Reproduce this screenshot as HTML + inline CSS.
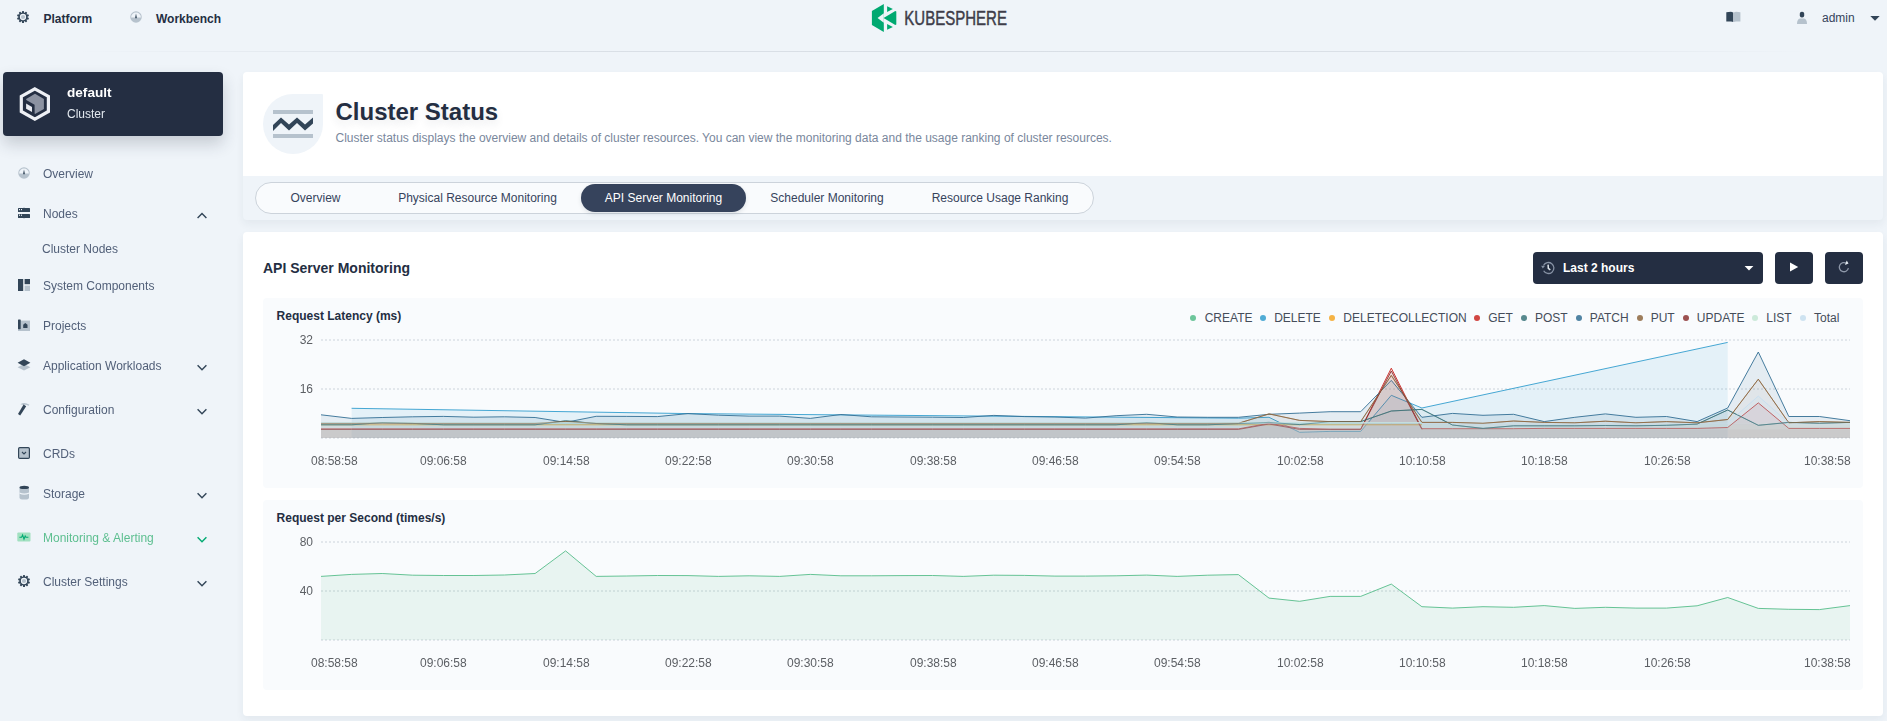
<!DOCTYPE html>
<html lang="en">
<head>
<meta charset="utf-8">
<title>KubeSphere</title>
<style>
*{box-sizing:border-box;margin:0;padding:0}
html,body{width:1887px;height:721px;overflow:hidden}
body{background:#eff4f9;font-family:"Liberation Sans",sans-serif;font-size:12px;color:#242e42;position:relative;-webkit-font-smoothing:antialiased}
.abs{position:absolute}
.t{position:absolute;white-space:nowrap;line-height:20px;height:20px}
.b{font-weight:bold}
/* header */
.hline{position:absolute;left:0;top:51px;width:1887px;height:1px;background:linear-gradient(90deg,rgba(216,222,229,0) 4%,rgba(216,222,229,.9) 24%,#d8dee5 50%,rgba(216,222,229,.9) 76%,rgba(216,222,229,0) 96%)}
/* sidebar */
.cluster{position:absolute;left:3px;top:72px;width:220px;height:64px;background:#242e42;border-radius:4px;box-shadow:0 8px 16px 0 rgba(36,46,66,.2)}
.nav{color:#526079;will-change:transform}
.nav.on{color:#5dbf90}
/* main */
.banner{position:absolute;left:243px;top:72px;width:1640px;height:148px;border-radius:4px;background:#eff4f9;box-shadow:0 4px 8px 0 rgba(36,46,66,.06)}
.banner .top{position:absolute;left:0;top:0;width:1640px;height:104px;background:#fff;border-radius:4px 4px 0 0}
.bicon{position:absolute;left:263px;top:94px;width:60px;height:60px;background:#eff4f9;border-radius:30px 1px 30px 30px}
.tabs{position:absolute;left:255px;top:182px;width:839px;height:32px;border:1px solid #ccd3db;border-radius:16px;background:#f9fbfd}
.tab{position:absolute;top:184px;height:28px;line-height:28px;text-align:center;color:#36435c;white-space:nowrap}
.tab.on{background:#36435c;color:#fff;border-radius:14px;box-shadow:0 2px 4px rgba(36,46,66,.12)}
.panel{position:absolute;left:243px;top:232px;width:1640px;height:484px;background:#fff;border-radius:4px;box-shadow:0 4px 8px 0 rgba(36,46,66,.06)}
.dark{position:absolute;background:#242e42;border-radius:4px;height:32px;top:252px}
.chart{position:absolute;left:263px;width:1600px;background:#f9fbfd;border-radius:4px}
.ax{will-change:transform;position:absolute;white-space:nowrap;color:#5c5f64;font-size:12px;line-height:14px;height:14px}
.lg{position:absolute;top:311px;height:14px;line-height:14px;white-space:nowrap;color:#454d5a}
.dot{position:absolute;top:315px;width:6px;height:6px;border-radius:50%;opacity:.85}
.hs{margin-top:1px}
</style>
</head>
<body>
<!-- header -->
<svg class="abs" style="left:17px;top:11px" width="12" height="12" viewBox="0 0 24 24"><g fill="#324558"><circle cx="12" cy="12" r="9.2"/><g id="tooth"><rect x="10" y="0" width="4" height="5" rx="1"/></g><use href="#tooth" transform="rotate(36 12 12)"/><use href="#tooth" transform="rotate(72 12 12)"/><use href="#tooth" transform="rotate(108 12 12)"/><use href="#tooth" transform="rotate(144 12 12)"/><use href="#tooth" transform="rotate(180 12 12)"/><use href="#tooth" transform="rotate(216 12 12)"/><use href="#tooth" transform="rotate(252 12 12)"/><use href="#tooth" transform="rotate(288 12 12)"/><use href="#tooth" transform="rotate(324 12 12)"/></g><circle cx="12" cy="12" r="6.3" fill="#eff4f9"/><circle cx="12" cy="12" r="4.2" fill="#b6c2cd"/></svg>
<div class="t b hs" style="left:43.5px;top:8px">Platform</div>
<svg class="abs" style="left:130px;top:11px" width="12" height="12" viewBox="0 0 24 24"><circle cx="12" cy="12" r="11.5" fill="#b6c2cd"/><path d="M2.2 13 A9.8 9.8 0 0 1 21.8 13 Z" fill="#eff4f9"/><path d="M12 5 L13.6 12.5 A1.7 1.7 0 1 1 10.4 12.5 Z" fill="#324558"/></svg>
<div class="t b hs" style="left:156px;top:8px">Workbench</div>
<div class="hline"></div>
<!-- logo -->
<svg class="abs" style="left:871px;top:4px" width="26" height="28" viewBox="0 0 26 28"><path d="M13 0 L1 7 L1 21 L13 28 L13 20.5 L7.3 16.2 L13 11.8 L18.3 14.9 L10.2 16.2 L24.6 24 L24.6 21.5 L25.4 21 L25.4 7 L24.6 6.6 L24.6 9.6 L13 9 Z" fill="none"/>
<path d="M12.8 0 L0.9 6.9 L0.9 21 L12.8 28 Z" fill="#00a971"/>
<path d="M12.8 9.2 L6.6 14 L12.8 18.8 Z" fill="#eff4f9"/>
<path d="M16.1 2.3 L21.9 5 L16.1 8 Z" fill="#00a971"/>
<path d="M16.1 25.7 L21.9 23 L16.1 20 Z" fill="#00a971"/>
<path d="M24.3 7 L25.3 7.6 L25.3 20.4 L24.3 21 L12.6 14 Z" fill="#00a971"/>
</svg>
<svg class="abs" style="left:904px;top:8px" width="105" height="20" viewBox="0 0 105 20"><text x="0.3" y="17" font-family="Liberation Sans, sans-serif" font-size="19.5" font-weight="400" fill="#3e3d49" stroke="#3e3d49" stroke-width="0.45" textLength="102.6" lengthAdjust="spacingAndGlyphs">KUBESPHERE</text></svg>
<!-- right -->
<svg class="abs" style="left:1726px;top:11px" width="15" height="12" viewBox="0 0 15 12"><path d="M0.3 1.2 L5 0.8 L7.3 1.6 L7.3 11 L5 10.4 L0.3 10.6 Z" fill="#324558"/><path d="M7.6 1.6 L10 0.8 L14.4 1.2 L14.4 10.6 L10 10.4 L7.6 11 Z" fill="#b6c2cd"/></svg>
<svg class="abs" style="left:1796px;top:11px" width="12" height="14" viewBox="0 0 12 14"><path d="M1 13 Q1 8.2 4 7.6 L8 7.6 Q11 8.2 11 13 Z" fill="#b6c2cd"/><rect x="3.8" y="0.8" width="4.4" height="5.6" rx="2" fill="#324558"/></svg>
<div class="t" style="left:1822px;top:8px;color:#36435c">admin</div>
<svg class="abs" style="left:1870px;top:16px" width="10" height="5" viewBox="0 0 10 5"><path d="M0.3 0 L9.7 0 L5 4.8 Z" fill="#324558"/></svg>

<!-- sidebar -->
<div class="cluster"></div>
<svg class="abs" style="left:18px;top:85px" width="34" height="38" viewBox="18 85 34 38"><path d="M34.85 88.85 L48.4 96.4 L48.4 111.5 L34.85 119.05 L21.3 111.5 L21.3 96.4 Z" fill="none" stroke="#eef0f5" stroke-width="3.2" stroke-linejoin="miter"/><path d="M35 93.7 L43.9 98.9 L43.9 109 L35 114 L26.2 109 L26.2 98.9 Z" fill="#8c92a1"/><path d="M25.4 99.6 L34.6 104.7 L34.6 114.6 L25.4 109.6 Z" fill="#242e42"/><path d="M26.1 103.6 L32 106.9 L32 112 L26.1 108.7 Z" fill="#e8eaf0"/></svg>
<div class="t b hs" style="left:67px;top:82px;font-size:13.6px;color:#fff;will-change:transform">default</div>
<div class="t hs" style="left:67px;top:103px;color:#e3e9ef;will-change:transform">Cluster</div>

<!-- Overview -->
<svg class="abs" style="left:18px;top:167px" width="12" height="12" viewBox="0 0 24 24"><circle cx="12" cy="12" r="11.5" fill="#b6c2cd"/><path d="M2.2 13 A9.8 9.8 0 0 1 21.8 13 Z" fill="#eff4f9"/><path d="M12 5 L13.6 12.5 A1.7 1.7 0 1 1 10.4 12.5 Z" fill="#324558"/></svg>
<div class="t hs nav" style="left:43.4px;top:163px">Overview</div>
<!-- Nodes -->
<svg class="abs" style="left:18px;top:207px" width="13" height="12" viewBox="0 0 13 12"><rect x="0" y="1" width="12" height="4" rx="0.5" fill="#324558"/><rect x="0" y="7" width="12" height="4" rx="0.5" fill="#324558"/><rect x="1" y="2" width="1" height="1.2" fill="#eff4f9"/><rect x="3" y="2" width="1" height="1.2" fill="#eff4f9"/><rect x="1" y="7.6" width="1" height="1.2" fill="#eff4f9"/><rect x="3" y="7.6" width="1" height="1.2" fill="#eff4f9"/><rect x="5.2" y="0.4" width="1.6" height="0.6" fill="#b6c2cd"/><rect x="5.2" y="11" width="1.6" height="0.6" fill="#b6c2cd"/></svg>
<div class="t hs nav" style="left:43.4px;top:203px">Nodes</div>
<svg class="abs" style="left:196px;top:211px" width="12" height="9" viewBox="0 0 12 9"><path d="M1.6 7 L6 2.4 L10.4 7" fill="none" stroke="#324558" stroke-width="1.4"/></svg>
<div class="t hs nav" style="left:42px;top:238px">Cluster Nodes</div>
<!-- System Components -->
<svg class="abs" style="left:18px;top:279px" width="12" height="12" viewBox="0 0 12 12"><rect x="0" y="0" width="5.2" height="12" fill="#324558"/><rect x="6.6" y="0" width="5.4" height="5.2" fill="#324558"/><rect x="6.6" y="6.6" width="5.4" height="5.4" fill="#b6c2cd"/></svg>
<div class="t hs nav" style="left:43.4px;top:275px">System Components</div>
<!-- Projects -->
<svg class="abs" style="left:18px;top:319px" width="12" height="12" viewBox="0 0 12 12"><rect x="0" y="1.6" width="12" height="10.4" fill="#b6c2cd"/><rect x="0" y="0.4" width="2.7" height="9.8" rx="0.6" fill="#324558"/><path d="M5.2 8.9 L5.2 5.8 L7.3 3.9 L9.5 5.8 L9.5 8.9 Z" fill="#324558"/></svg>
<div class="t hs nav" style="left:43.4px;top:315px">Projects</div>
<!-- Application Workloads -->
<svg class="abs" style="left:17px;top:359px" width="14" height="12" viewBox="0 0 14 12"><path d="M7 5 L13.4 8.2 L7 11.6 L0.6 8.2 Z" fill="#b6c2cd"/><path d="M7 0.3 L13.4 3.7 L7 7.2 L0.6 3.7 Z" fill="#324558"/></svg>
<div class="t hs nav" style="left:43.4px;top:355px">Application Workloads</div>
<svg class="abs" style="left:196px;top:363px" width="12" height="9" viewBox="0 0 12 9"><path d="M1.6 2.2 L6 6.8 L10.4 2.2" fill="none" stroke="#324558" stroke-width="1.4"/></svg>
<!-- Configuration -->
<svg class="abs" style="left:17px;top:402px" width="14" height="14" viewBox="0 0 14 14"><path d="M3.4 2.2 Q7.6 -0.6 12.4 2.8 L11.6 3.8 Q8.6 2 6.4 3 Z" fill="#b6c2cd"/><path d="M6.6 2.6 L9.2 4.2 L3.2 13.4 L1 12 Z" fill="#324558"/></svg>
<div class="t hs nav" style="left:43.4px;top:399px">Configuration</div>
<svg class="abs" style="left:196px;top:407px" width="12" height="9" viewBox="0 0 12 9"><path d="M1.6 2.2 L6 6.8 L10.4 2.2" fill="none" stroke="#324558" stroke-width="1.4"/></svg>
<!-- CRDs -->
<svg class="abs" style="left:18px;top:447px" width="12" height="12" viewBox="0 0 12 12"><rect x="0.6" y="0.6" width="10.8" height="10.8" rx="1.2" fill="#b6c2cd" stroke="#324558" stroke-width="1.2"/><path d="M4 5 L6 7 L8 5" fill="none" stroke="#324558" stroke-width="1.1"/></svg>
<div class="t hs nav" style="left:43.4px;top:443px">CRDs</div>
<!-- Storage -->
<svg class="abs" style="left:18px;top:485px" width="13" height="15" viewBox="0 0 13 15"><path d="M1.5 2.6 L11 2.6 L11 12.4 Q11 14.6 6.25 14.6 Q1.5 14.6 1.5 12.4 Z" fill="#b6c2cd"/><ellipse cx="6.25" cy="2.4" rx="4.75" ry="1.7" fill="#324558"/><path d="M1.5 7.6 Q6.25 9.6 11 7.6 L11 8.8 Q6.25 10.8 1.5 8.8 Z" fill="#eff4f9"/></svg>
<div class="t hs nav" style="left:43.4px;top:483px">Storage</div>
<svg class="abs" style="left:196px;top:491px" width="12" height="9" viewBox="0 0 12 9"><path d="M1.6 2.2 L6 6.8 L10.4 2.2" fill="none" stroke="#324558" stroke-width="1.4"/></svg>
<!-- Monitoring -->
<svg class="abs" style="left:17px;top:532px" width="14" height="10" viewBox="0 0 14 10"><rect x="0.3" y="0.4" width="13.2" height="9.2" rx="1" fill="#a1e0c0"/><path d="M2.4 5.2 L4.6 5.2 L5.6 3 L7 7.2 L8.2 4 L9 5.2 L11.4 5.2" fill="none" stroke="#00aa72" stroke-width="1.1"/></svg>
<div class="t hs nav on" style="left:43.4px;top:527px">Monitoring &amp; Alerting</div>
<svg class="abs" style="left:196px;top:535px" width="12" height="9" viewBox="0 0 12 9"><path d="M1.6 2.2 L6 6.8 L10.4 2.2" fill="none" stroke="#00aa72" stroke-width="1.4"/></svg>
<!-- Cluster Settings -->
<svg class="abs" style="left:18px;top:575px" width="12" height="12" viewBox="0 0 24 24"><g fill="#324558"><circle cx="12" cy="12" r="9.2"/><use href="#tooth"/><use href="#tooth" transform="rotate(36 12 12)"/><use href="#tooth" transform="rotate(72 12 12)"/><use href="#tooth" transform="rotate(108 12 12)"/><use href="#tooth" transform="rotate(144 12 12)"/><use href="#tooth" transform="rotate(180 12 12)"/><use href="#tooth" transform="rotate(216 12 12)"/><use href="#tooth" transform="rotate(252 12 12)"/><use href="#tooth" transform="rotate(288 12 12)"/><use href="#tooth" transform="rotate(324 12 12)"/></g><circle cx="12" cy="12" r="6.3" fill="#eff4f9"/><circle cx="12" cy="12" r="4.2" fill="#b6c2cd"/></svg>
<div class="t hs nav" style="left:43.4px;top:571px">Cluster Settings</div>
<svg class="abs" style="left:196px;top:579px" width="12" height="9" viewBox="0 0 12 9"><path d="M1.6 2.2 L6 6.8 L10.4 2.2" fill="none" stroke="#324558" stroke-width="1.4"/></svg>

<!-- main -->
<div class="banner"><div class="top"></div></div>
<div class="bicon"></div>
<svg class="abs" style="left:273px;top:108px" width="40" height="32" viewBox="273 108 40 32"><rect x="273" y="110" width="40" height="4" fill="#b6c2cd"/><rect x="273" y="134" width="40" height="4" fill="#b6c2cd"/><path d="M273 125 L281 117.5 L289 124.5 L297 117.5 L305 124.5 L313 117.5 L313 123.5 L305 130.5 L297 123 L289 130.5 L281 123 L273 131 Z" fill="#324558"/></svg>
<div class="t b" style="left:335.5px;top:96px;font-size:24px;line-height:32px;height:32px;color:#242e42;text-shadow:0 4px 8px rgba(36,46,66,.1)">Cluster Status</div>
<div class="t" style="left:335.5px;top:128px;color:#79879c">Cluster status displays the overview and details of cluster resources. You can view the monitoring data and the usage ranking of cluster resources.</div>
<div class="tabs"></div>
<div class="tab" style="left:267px;width:97px">Overview</div>
<div class="tab" style="left:374px;width:207px">Physical Resource Monitoring</div>
<div class="tab on" style="left:581px;width:165px">API Server Monitoring</div>
<div class="tab" style="left:746px;width:162px">Scheduler Monitoring</div>
<div class="tab" style="left:908px;width:184px">Resource Usage Ranking</div>

<div class="panel"></div>
<div class="t b" style="left:263px;top:258px;font-size:14px">API Server Monitoring</div>
<div class="dark" style="left:1533px;width:230px"></div>
<svg class="abs" style="left:1541px;top:261px" width="14" height="14" viewBox="0 0 14 14"><path d="M2.5 4.5 A5.5 5.5 0 1 1 2.64 9.75" fill="none" stroke="#8792a5" stroke-width="1.3"/><path d="M0.1 4.7 L3.9 4.9 L1.8 7.6 Z" fill="#8792a5"/><path d="M7.1 3.6 L7.3 7.3 L9.3 8.9" fill="none" stroke="#dfe5ec" stroke-width="1.5"/></svg>
<div class="t b" style="left:1563px;top:258px;color:#fff">Last 2 hours</div>
<svg class="abs" style="left:1744px;top:266px" width="10" height="5" viewBox="0 0 10 5"><path d="M0.6 0 L9.4 0 L5 4.6 Z" fill="#fff"/></svg>
<div class="dark" style="left:1775px;width:38px"></div>
<svg class="abs" style="left:1789px;top:262px" width="10" height="10" viewBox="0 0 10 10"><path d="M1 0.6 L9.2 5 L1 9.4 Z" fill="#fff"/></svg>
<div class="dark" style="left:1825px;width:38px"></div>
<svg class="abs" style="left:1837px;top:260px" width="14" height="14" viewBox="0 0 14 14"><path d="M9.6 3.4 A4.6 4.6 0 1 0 11.4 8.2" fill="none" stroke="#8d97a8" stroke-width="1.3"/><path d="M9.7 0.5 L11.5 3.4 L8 4.9 Z" fill="#e3e9ef"/></svg>

<!-- chart 1 -->
<div class="chart" style="top:298px;height:190px"></div>
<div class="t b" style="left:276.6px;top:306px;color:#242e42">Request Latency (ms)</div>
<div class="dot" style="left:1190.0px;background:#55bc8a"></div><div class="lg" style="left:1204.7px">CREATE</div><div class="dot" style="left:1260.3px;background:#329dce"></div><div class="lg" style="left:1274.2px">DELETE</div><div class="dot" style="left:1328.6px;background:#f5a623"></div><div class="lg" style="left:1343.3px">DELETECOLLECTION</div><div class="dot" style="left:1474.0px;background:#ca2621"></div><div class="lg" style="left:1488.2px">GET</div><div class="dot" style="left:1520.8px;background:#3b747a"></div><div class="lg" style="left:1535.0px">POST</div><div class="dot" style="left:1575.9px;background:#326e93"></div><div class="lg" style="left:1589.8px">PATCH</div><div class="dot" style="left:1636.8px;background:#8d663e"></div><div class="lg" style="left:1650.7px">PUT</div><div class="dot" style="left:1682.9px;background:#8c3231"></div><div class="lg" style="left:1696.8px">UPDATE</div><div class="dot" style="left:1752.0px;background:#c4e6d4"></div><div class="lg" style="left:1766.3px">LIST</div><div class="dot" style="left:1800.0px;background:#c7deef"></div><div class="lg" style="left:1814.0px">Total</div>
<div class="ax" style="left:283px;width:30px;text-align:right;top:333px">32</div>
<div class="ax" style="left:283px;width:30px;text-align:right;top:382px">16</div>
<svg class="abs" style="left:263px;top:298px" width="1600" height="190" viewBox="263 298 1600 190"><line x1="321.0" x2="1850.0" y1="340.0" y2="340.0" stroke="#ccd3db" stroke-width="1" stroke-dasharray="2 2"/><line x1="321.0" x2="1850.0" y1="389.0" y2="389.0" stroke="#ccd3db" stroke-width="1" stroke-dasharray="2 2"/><line x1="321.0" x2="1850.0" y1="438.0" y2="438.0" stroke="#ccd3db" stroke-width="1" stroke-dasharray="2 2"/><path d="M321.0,424.0 L351.6,424.0 L382.2,422.9 L412.7,424.0 L443.3,424.0 L473.9,424.0 L504.5,424.0 L535.1,424.0 L565.6,424.0 L596.2,424.0 L626.8,424.0 L657.4,424.0 L688.0,424.0 L718.5,424.0 L749.1,424.0 L779.7,424.0 L810.3,424.0 L840.9,424.0 L871.4,424.0 L902.0,424.0 L932.6,424.0 L963.2,424.0 L993.8,424.0 L1024.3,424.0 L1054.9,424.0 L1085.5,424.0 L1116.1,424.0 L1146.7,424.0 L1177.2,424.0 L1207.8,424.0 L1238.4,424.0 L1269.0,424.0 L1299.6,424.0 L1330.1,424.0 L1360.7,424.0 L1391.3,424.0 L1421.9,424.0 L1452.5,424.0 L1483.0,424.0 L1513.6,424.0 L1544.2,424.0 L1574.8,424.0 L1605.4,424.0 L1635.9,424.0 L1666.5,424.0 L1697.1,424.0 L1727.7,424.0 L1758.3,424.0 L1788.8,424.0 L1819.4,424.0 L1850.0,424.0 L1850.0,438.0 L321.0,438.0 Z" fill="#55bc8a" fill-opacity="0.03" stroke="none"/><path d="M321.0,424.0 L351.6,424.0 L382.2,422.9 L412.7,424.0 L443.3,424.0 L473.9,424.0 L504.5,424.0 L535.1,424.0 L565.6,424.0 L596.2,424.0 L626.8,424.0 L657.4,424.0 L688.0,424.0 L718.5,424.0 L749.1,424.0 L779.7,424.0 L810.3,424.0 L840.9,424.0 L871.4,424.0 L902.0,424.0 L932.6,424.0 L963.2,424.0 L993.8,424.0 L1024.3,424.0 L1054.9,424.0 L1085.5,424.0 L1116.1,424.0 L1146.7,424.0 L1177.2,424.0 L1207.8,424.0 L1238.4,424.0 L1269.0,424.0 L1299.6,424.0 L1330.1,424.0 L1360.7,424.0 L1391.3,424.0 L1421.9,424.0" fill="none" stroke="#55bc8a" stroke-width="1" stroke-opacity=".9"/><path d="M351.6,408.3 L688.0,413.6 L1238.4,418.2 L1269.0,417.3 L1299.6,432.3 L1330.1,431.4 L1360.7,431.4 L1391.3,395.3 L1421.9,408.0 L1727.7,342.4 L1727.7,438.0 L351.6,438.0 Z" fill="#329dce" fill-opacity="0.1" stroke="none"/><path d="M351.6,408.3 L688.0,413.6 L1238.4,418.2 L1269.0,417.3 L1299.6,432.3 L1330.1,431.4 L1360.7,431.4 L1391.3,395.3 L1421.9,408.0 L1727.7,342.4" fill="none" stroke="#329dce" stroke-width="1" stroke-opacity=".9"/><path d="M321.0,424.8 L351.6,424.8 L382.2,424.8 L412.7,424.8 L443.3,424.8 L473.9,424.8 L504.5,424.8 L535.1,424.8 L565.6,424.8 L596.2,424.8 L626.8,424.8 L657.4,424.8 L688.0,424.8 L718.5,424.8 L749.1,424.8 L779.7,424.8 L810.3,424.8 L840.9,424.8 L871.4,424.8 L902.0,424.8 L932.6,424.8 L963.2,424.8 L993.8,424.8 L1024.3,424.8 L1054.9,424.8 L1085.5,424.8 L1116.1,424.8 L1146.7,424.8 L1177.2,424.8 L1207.8,424.8 L1238.4,424.8 L1269.0,424.8 L1299.6,424.8 L1330.1,424.8 L1360.7,424.8 L1391.3,424.8 L1421.9,424.8 L1452.5,424.8 L1483.0,424.8 L1513.6,424.8 L1544.2,424.8 L1574.8,424.8 L1605.4,424.8 L1635.9,424.8 L1666.5,424.8 L1697.1,424.8 L1727.7,424.8 L1758.3,424.8 L1788.8,424.8 L1819.4,424.8 L1850.0,424.8 L1850.0,438.0 L321.0,438.0 Z" fill="#f5a623" fill-opacity="0.03" stroke="none"/><path d="M321.0,424.8 L351.6,424.8 L382.2,424.8 L412.7,424.8 L443.3,424.8 L473.9,424.8 L504.5,424.8 L535.1,424.8 L565.6,424.8 L596.2,424.8 L626.8,424.8 L657.4,424.8 L688.0,424.8 L718.5,424.8 L749.1,424.8 L779.7,424.8 L810.3,424.8 L840.9,424.8 L871.4,424.8 L902.0,424.8 L932.6,424.8 L963.2,424.8 L993.8,424.8 L1024.3,424.8 L1054.9,424.8 L1085.5,424.8 L1116.1,424.8 L1146.7,424.8 L1177.2,424.8 L1207.8,424.8 L1238.4,424.8 L1269.0,424.8 L1299.6,424.8 L1330.1,424.8 L1360.7,424.8 L1391.3,424.8 L1421.9,424.8" fill="none" stroke="#f5a623" stroke-width="1" stroke-opacity=".9"/><path d="M321.0,428.9 L351.6,428.9 L382.2,428.9 L412.7,428.9 L443.3,428.9 L473.9,428.9 L504.5,428.9 L535.1,428.9 L565.6,428.9 L596.2,428.9 L626.8,428.9 L657.4,428.9 L688.0,428.9 L718.5,428.9 L749.1,428.9 L779.7,428.9 L810.3,428.9 L840.9,428.9 L871.4,428.9 L902.0,428.9 L932.6,428.9 L963.2,428.9 L993.8,428.9 L1024.3,428.9 L1054.9,428.9 L1085.5,428.9 L1116.1,428.9 L1146.7,428.9 L1177.2,428.9 L1207.8,428.9 L1238.4,428.9 L1269.0,423.3 L1299.6,428.4 L1330.1,429.2 L1360.7,429.2 L1391.3,368.2 L1421.9,428.7 L1452.5,428.7 L1483.0,428.7 L1513.6,428.7 L1544.2,428.4 L1574.8,428.4 L1605.4,428.4 L1635.9,428.4 L1666.5,428.4 L1697.1,428.4 L1727.7,427.5 L1758.3,402.9 L1788.8,428.4 L1819.4,428.4 L1850.0,428.4 L1850.0,438.0 L321.0,438.0 Z" fill="#ca2621" fill-opacity="0.1" stroke="none"/><path d="M321.0,428.9 L351.6,428.9 L382.2,428.9 L412.7,428.9 L443.3,428.9 L473.9,428.9 L504.5,428.9 L535.1,428.9 L565.6,428.9 L596.2,428.9 L626.8,428.9 L657.4,428.9 L688.0,428.9 L718.5,428.9 L749.1,428.9 L779.7,428.9 L810.3,428.9 L840.9,428.9 L871.4,428.9 L902.0,428.9 L932.6,428.9 L963.2,428.9 L993.8,428.9 L1024.3,428.9 L1054.9,428.9 L1085.5,428.9 L1116.1,428.9 L1146.7,428.9 L1177.2,428.9 L1207.8,428.9 L1238.4,428.9 L1269.0,423.3 L1299.6,428.4 L1330.1,429.2 L1360.7,429.2 L1391.3,368.2 L1421.9,428.7 L1452.5,428.7 L1483.0,428.7 L1513.6,428.7 L1544.2,428.4 L1574.8,428.4 L1605.4,428.4 L1635.9,428.4 L1666.5,428.4 L1697.1,428.4 L1727.7,427.5 L1758.3,402.9 L1788.8,428.4 L1819.4,428.4 L1850.0,428.4" fill="none" stroke="#ca2621" stroke-width="1" stroke-opacity=".9"/><path d="M321.0,424.8 L351.6,424.8 L382.2,422.6 L412.7,423.4 L443.3,424.8 L473.9,424.8 L504.5,424.8 L535.1,424.8 L565.6,420.8 L596.2,423.5 L626.8,424.8 L657.4,424.8 L688.0,424.8 L718.5,424.8 L749.1,424.8 L779.7,424.8 L810.3,424.8 L840.9,424.8 L871.4,424.8 L902.0,424.8 L932.6,424.8 L963.2,424.8 L993.8,424.8 L1024.3,424.8 L1054.9,424.8 L1085.5,424.8 L1116.1,424.8 L1146.7,422.6 L1177.2,424.8 L1207.8,424.8 L1238.4,423.6 L1269.0,422.4 L1299.6,424.6 L1330.1,421.6 L1360.7,421.6 L1391.3,411.0 L1421.9,409.4 L1452.5,425.0 L1483.0,428.4 L1513.6,425.8 L1544.2,425.8 L1574.8,425.8 L1605.4,425.5 L1635.9,425.8 L1666.5,425.3 L1697.1,424.1 L1727.7,410.0 L1758.3,425.3 L1788.8,422.4 L1819.4,423.3 L1850.0,422.4 L1850.0,438.0 L321.0,438.0 Z" fill="#3b747a" fill-opacity="0.05" stroke="none"/><path d="M321.0,424.8 L351.6,424.8 L382.2,422.6 L412.7,423.4 L443.3,424.8 L473.9,424.8 L504.5,424.8 L535.1,424.8 L565.6,420.8 L596.2,423.5 L626.8,424.8 L657.4,424.8 L688.0,424.8 L718.5,424.8 L749.1,424.8 L779.7,424.8 L810.3,424.8 L840.9,424.8 L871.4,424.8 L902.0,424.8 L932.6,424.8 L963.2,424.8 L993.8,424.8 L1024.3,424.8 L1054.9,424.8 L1085.5,424.8 L1116.1,424.8 L1146.7,422.6 L1177.2,424.8 L1207.8,424.8 L1238.4,423.6 L1269.0,422.4 L1299.6,424.6 L1330.1,421.6 L1360.7,421.6 L1391.3,411.0 L1421.9,409.4 L1452.5,425.0 L1483.0,428.4 L1513.6,425.8 L1544.2,425.8 L1574.8,425.8 L1605.4,425.5 L1635.9,425.8 L1666.5,425.3 L1697.1,424.1 L1727.7,410.0 L1758.3,425.3 L1788.8,422.4 L1819.4,423.3 L1850.0,422.4" fill="none" stroke="#3b747a" stroke-width="1" stroke-opacity=".9"/><path d="M321.0,414.8 L351.6,418.4 L382.2,417.5 L412.7,416.8 L443.3,416.4 L473.9,417.2 L504.5,416.8 L535.1,417.5 L565.6,422.4 L596.2,416.3 L626.8,416.4 L657.4,416.6 L688.0,413.6 L718.5,415.2 L749.1,416.1 L779.7,416.1 L810.3,418.4 L840.9,414.5 L871.4,416.8 L902.0,417.0 L932.6,417.2 L963.2,417.5 L993.8,415.4 L1024.3,416.6 L1054.9,417.0 L1085.5,418.1 L1116.1,415.7 L1146.7,414.3 L1177.2,417.0 L1207.8,417.3 L1238.4,417.3 L1269.0,414.3 L1299.6,413.1 L1330.1,411.7 L1360.7,411.7 L1391.3,380.4 L1421.9,417.3 L1452.5,413.4 L1483.0,415.3 L1513.6,414.3 L1544.2,421.6 L1574.8,417.3 L1605.4,413.9 L1635.9,417.3 L1666.5,416.5 L1697.1,421.6 L1727.7,408.0 L1758.3,352.0 L1788.8,416.5 L1819.4,416.5 L1850.0,420.7 L1850.0,438.0 L321.0,438.0 Z" fill="#326e93" fill-opacity="0.1" stroke="none"/><path d="M321.0,414.8 L351.6,418.4 L382.2,417.5 L412.7,416.8 L443.3,416.4 L473.9,417.2 L504.5,416.8 L535.1,417.5 L565.6,422.4 L596.2,416.3 L626.8,416.4 L657.4,416.6 L688.0,413.6 L718.5,415.2 L749.1,416.1 L779.7,416.1 L810.3,418.4 L840.9,414.5 L871.4,416.8 L902.0,417.0 L932.6,417.2 L963.2,417.5 L993.8,415.4 L1024.3,416.6 L1054.9,417.0 L1085.5,418.1 L1116.1,415.7 L1146.7,414.3 L1177.2,417.0 L1207.8,417.3 L1238.4,417.3 L1269.0,414.3 L1299.6,413.1 L1330.1,411.7 L1360.7,411.7 L1391.3,380.4 L1421.9,417.3 L1452.5,413.4 L1483.0,415.3 L1513.6,414.3 L1544.2,421.6 L1574.8,417.3 L1605.4,413.9 L1635.9,417.3 L1666.5,416.5 L1697.1,421.6 L1727.7,408.0 L1758.3,352.0 L1788.8,416.5 L1819.4,416.5 L1850.0,420.7" fill="none" stroke="#326e93" stroke-width="1" stroke-opacity=".9"/><path d="M321.0,423.4 L351.6,423.4 L382.2,423.2 L412.7,423.4 L443.3,423.4 L473.9,423.4 L504.5,423.4 L535.1,423.4 L565.6,421.5 L596.2,423.4 L626.8,423.4 L657.4,423.4 L688.0,423.4 L718.5,423.4 L749.1,423.4 L779.7,423.4 L810.3,423.4 L840.9,423.4 L871.4,423.4 L902.0,423.4 L932.6,423.4 L963.2,423.4 L993.8,423.4 L1024.3,423.4 L1054.9,423.4 L1085.5,423.4 L1116.1,423.4 L1146.7,423.4 L1177.2,423.4 L1207.8,423.4 L1238.4,423.3 L1269.0,413.9 L1299.6,420.4 L1330.1,421.6 L1360.7,421.6 L1391.3,375.4 L1421.9,422.4 L1452.5,422.4 L1483.0,423.3 L1513.6,421.0 L1544.2,422.4 L1574.8,422.8 L1605.4,421.2 L1635.9,422.8 L1666.5,421.6 L1697.1,422.8 L1727.7,419.5 L1758.3,379.2 L1788.8,422.8 L1819.4,421.6 L1850.0,422.4 L1850.0,438.0 L321.0,438.0 Z" fill="#8d663e" fill-opacity="0.05" stroke="none"/><path d="M321.0,423.4 L351.6,423.4 L382.2,423.2 L412.7,423.4 L443.3,423.4 L473.9,423.4 L504.5,423.4 L535.1,423.4 L565.6,421.5 L596.2,423.4 L626.8,423.4 L657.4,423.4 L688.0,423.4 L718.5,423.4 L749.1,423.4 L779.7,423.4 L810.3,423.4 L840.9,423.4 L871.4,423.4 L902.0,423.4 L932.6,423.4 L963.2,423.4 L993.8,423.4 L1024.3,423.4 L1054.9,423.4 L1085.5,423.4 L1116.1,423.4 L1146.7,423.4 L1177.2,423.4 L1207.8,423.4 L1238.4,423.3 L1269.0,413.9 L1299.6,420.4 L1330.1,421.6 L1360.7,421.6 L1391.3,375.4 L1421.9,422.4 L1452.5,422.4 L1483.0,423.3 L1513.6,421.0 L1544.2,422.4 L1574.8,422.8 L1605.4,421.2 L1635.9,422.8 L1666.5,421.6 L1697.1,422.8 L1727.7,419.5 L1758.3,379.2 L1788.8,422.8 L1819.4,421.6 L1850.0,422.4" fill="none" stroke="#8d663e" stroke-width="1" stroke-opacity=".9"/><path d="M321.0,429.4 L351.6,429.4 L382.2,429.4 L412.7,429.4 L443.3,429.4 L473.9,429.4 L504.5,429.4 L535.1,429.4 L565.6,429.4 L596.2,429.4 L626.8,429.4 L657.4,429.4 L688.0,429.4 L718.5,429.4 L749.1,429.4 L779.7,429.4 L810.3,429.4 L840.9,429.4 L871.4,429.4 L902.0,429.4 L932.6,429.4 L963.2,429.4 L993.8,429.4 L1024.3,429.4 L1054.9,429.4 L1085.5,429.4 L1116.1,429.4 L1146.7,429.4 L1177.2,429.4 L1207.8,429.4 L1238.4,429.4 L1269.0,424.0 L1299.6,429.4 L1330.1,429.4 L1360.7,429.4 L1391.3,371.0 L1421.9,429.4 L1452.5,429.4 L1483.0,429.4 L1513.6,429.4 L1544.2,429.4 L1574.8,429.4 L1605.4,429.4 L1635.9,429.4 L1666.5,429.4 L1697.1,429.4 L1727.7,429.4 L1758.3,429.4 L1788.8,429.4 L1819.4,429.4 L1850.0,429.4 L1850.0,438.0 L321.0,438.0 Z" fill="#8c3231" fill-opacity="0.05" stroke="none"/><path d="M321.0,429.4 L351.6,429.4 L382.2,429.4 L412.7,429.4 L443.3,429.4 L473.9,429.4 L504.5,429.4 L535.1,429.4 L565.6,429.4 L596.2,429.4 L626.8,429.4 L657.4,429.4 L688.0,429.4 L718.5,429.4 L749.1,429.4 L779.7,429.4 L810.3,429.4 L840.9,429.4 L871.4,429.4 L902.0,429.4 L932.6,429.4 L963.2,429.4 L993.8,429.4 L1024.3,429.4 L1054.9,429.4 L1085.5,429.4 L1116.1,429.4 L1146.7,429.4 L1177.2,429.4 L1207.8,429.4 L1238.4,429.4 L1269.0,424.0 L1299.6,429.4 L1330.1,429.4 L1360.7,429.4 L1391.3,371.0 L1421.9,429.4" fill="none" stroke="#8c3231" stroke-width="1" stroke-opacity=".9"/><path d="M321.0,422.6 L351.6,422.6 L382.2,422.6 L412.7,422.6 L443.3,422.6 L473.9,422.6 L504.5,422.6 L535.1,422.6 L565.6,422.6 L596.2,422.6 L626.8,422.6 L657.4,422.6 L688.0,422.6 L718.5,422.6 L749.1,422.6 L779.7,422.6 L810.3,422.6 L840.9,422.6 L871.4,422.6 L902.0,422.6 L932.6,422.6 L963.2,422.6 L993.8,422.6 L1024.3,422.6 L1054.9,422.6 L1085.5,422.6 L1116.1,422.6 L1146.7,422.6 L1177.2,422.6 L1207.8,422.6 L1238.4,422.6 L1269.0,422.6 L1299.6,422.6 L1330.1,422.6 L1360.7,422.6 L1391.3,422.6 L1421.9,422.6 L1452.5,422.6 L1483.0,422.6 L1513.6,422.6 L1544.2,422.6 L1574.8,422.6 L1605.4,422.6 L1635.9,422.6 L1666.5,422.6 L1697.1,422.6 L1727.7,422.6 L1758.3,422.6 L1788.8,422.6 L1819.4,422.6 L1850.0,422.6 L1850.0,438.0 L321.0,438.0 Z" fill="#c4e6d4" fill-opacity="0.1" stroke="none"/><path d="M321.0,422.6 L351.6,422.6 L382.2,422.6 L412.7,422.6 L443.3,422.6 L473.9,422.6 L504.5,422.6 L535.1,422.6 L565.6,422.6 L596.2,422.6 L626.8,422.6 L657.4,422.6 L688.0,422.6 L718.5,422.6 L749.1,422.6 L779.7,422.6 L810.3,422.6 L840.9,422.6 L871.4,422.6 L902.0,422.6 L932.6,422.6 L963.2,422.6 L993.8,422.6 L1024.3,422.6 L1054.9,422.6 L1085.5,422.6 L1116.1,422.6 L1146.7,422.6 L1177.2,422.6 L1207.8,422.6 L1238.4,422.6 L1269.0,422.6 L1299.6,422.6 L1330.1,422.6 L1360.7,422.6 L1391.3,422.6 L1421.9,422.6" fill="none" stroke="#c4e6d4" stroke-width="1" stroke-opacity=".9"/><path d="M321.0,423.0 L351.6,423.0 L382.2,423.0 L412.7,423.0 L443.3,423.0 L473.9,423.0 L504.5,423.0 L535.1,423.0 L565.6,423.0 L596.2,423.0 L626.8,423.0 L657.4,423.0 L688.0,423.0 L718.5,423.0 L749.1,423.0 L779.7,423.0 L810.3,423.0 L840.9,423.0 L871.4,423.0 L902.0,423.0 L932.6,423.0 L963.2,423.0 L993.8,423.0 L1024.3,423.0 L1054.9,423.0 L1085.5,423.0 L1116.1,423.0 L1146.7,423.0 L1177.2,423.0 L1207.8,423.0 L1238.4,423.0 L1269.0,423.0 L1299.6,423.0 L1330.1,423.0 L1360.7,423.0 L1391.3,423.0 L1421.9,423.0 L1452.5,423.0 L1483.0,423.0 L1513.6,423.0 L1544.2,423.0 L1574.8,423.0 L1605.4,423.0 L1635.9,423.0 L1666.5,423.0 L1697.1,423.0 L1727.7,423.0 L1758.3,396.1 L1788.8,423.0 L1819.4,423.0 L1850.0,423.0 L1850.0,438.0 L321.0,438.0 Z" fill="#c7deef" fill-opacity="0.2" stroke="none"/><path d="M321.0,423.0 L351.6,423.0 L382.2,423.0 L412.7,423.0 L443.3,423.0 L473.9,423.0 L504.5,423.0 L535.1,423.0 L565.6,423.0 L596.2,423.0 L626.8,423.0 L657.4,423.0 L688.0,423.0 L718.5,423.0 L749.1,423.0 L779.7,423.0 L810.3,423.0 L840.9,423.0 L871.4,423.0 L902.0,423.0 L932.6,423.0 L963.2,423.0 L993.8,423.0 L1024.3,423.0 L1054.9,423.0 L1085.5,423.0 L1116.1,423.0 L1146.7,423.0 L1177.2,423.0 L1207.8,423.0 L1238.4,423.0 L1269.0,423.0 L1299.6,423.0 L1330.1,423.0 L1360.7,423.0 L1391.3,423.0 L1421.9,423.0" fill="none" stroke="#c7deef" stroke-width="1" stroke-opacity=".9"/><path d="M1727.7,423.0 L1758.3,396.1 L1788.8,423.0" fill="none" stroke="#c7deef" stroke-width="1" stroke-opacity=".9"/><path d="M321.0,424.8 L351.6,424.8 L382.2,422.6 L412.7,423.4 L443.3,424.8 L473.9,424.8 L504.5,424.8 L535.1,424.8 L565.6,420.8 L596.2,423.5 L626.8,424.8 L657.4,424.8 L688.0,424.8 L718.5,424.8 L749.1,424.8 L779.7,424.8 L810.3,424.8 L840.9,424.8 L871.4,424.8 L902.0,424.8 L932.6,424.8 L963.2,424.8 L993.8,424.8 L1024.3,424.8 L1054.9,424.8 L1085.5,424.8 L1116.1,424.8 L1146.7,422.6 L1177.2,424.8 L1207.8,424.8 L1238.4,423.6 L1269.0,422.4 L1299.6,424.6 L1330.1,421.6 L1360.7,421.6 L1391.3,411.0 L1421.9,409.4 L1452.5,425.0 L1483.0,428.4 L1513.6,425.8 L1544.2,425.8 L1574.8,425.8 L1605.4,425.5 L1635.9,425.8 L1666.5,425.3 L1697.1,424.1 L1727.7,410.0 L1758.3,425.3 L1788.8,422.4 L1819.4,423.3 L1850.0,422.4" fill="none" stroke="#3b747a" stroke-width="1" stroke-opacity=".45"/><path d="M321.0,423.4 L351.6,423.4 L382.2,423.2 L412.7,423.4 L443.3,423.4 L473.9,423.4 L504.5,423.4 L535.1,423.4 L565.6,421.5 L596.2,423.4 L626.8,423.4 L657.4,423.4 L688.0,423.4 L718.5,423.4 L749.1,423.4 L779.7,423.4 L810.3,423.4 L840.9,423.4 L871.4,423.4 L902.0,423.4 L932.6,423.4 L963.2,423.4 L993.8,423.4 L1024.3,423.4 L1054.9,423.4 L1085.5,423.4 L1116.1,423.4 L1146.7,423.4 L1177.2,423.4 L1207.8,423.4 L1238.4,423.3 L1269.0,413.9 L1299.6,420.4 L1330.1,421.6 L1360.7,421.6 L1391.3,375.4 L1421.9,422.4 L1452.5,422.4 L1483.0,423.3 L1513.6,421.0 L1544.2,422.4 L1574.8,422.8 L1605.4,421.2 L1635.9,422.8 L1666.5,421.6 L1697.1,422.8 L1727.7,419.5 L1758.3,379.2 L1788.8,422.8 L1819.4,421.6 L1850.0,422.4" fill="none" stroke="#8d663e" stroke-width="1" stroke-opacity=".45"/></svg>
<div class="ax" style="left:311.0px;top:454px">08:58:58</div><div class="ax" style="left:420.4px;top:454px">09:06:58</div><div class="ax" style="left:542.7px;top:454px">09:14:58</div><div class="ax" style="left:665.1px;top:454px">09:22:58</div><div class="ax" style="left:787.4px;top:454px">09:30:58</div><div class="ax" style="left:909.7px;top:454px">09:38:58</div><div class="ax" style="left:1032.0px;top:454px">09:46:58</div><div class="ax" style="left:1154.3px;top:454px">09:54:58</div><div class="ax" style="left:1276.7px;top:454px">10:02:58</div><div class="ax" style="left:1399.0px;top:454px">10:10:58</div><div class="ax" style="left:1521.3px;top:454px">10:18:58</div><div class="ax" style="left:1643.6px;top:454px">10:26:58</div><div class="ax" style="left:1803.8px;top:454px">10:38:58</div>
<!-- chart 2 -->
<div class="chart" style="top:500px;height:190px"></div>
<div class="t b" style="left:276.6px;top:508px;color:#242e42">Request per Second (times/s)</div>
<div class="ax" style="left:283px;width:30px;text-align:right;top:535px">80</div>
<div class="ax" style="left:283px;width:30px;text-align:right;top:584px">40</div>
<svg class="abs" style="left:263px;top:500px" width="1600" height="189" viewBox="263 500 1600 189"><line x1="321.0" x2="1850.0" y1="542.0" y2="542.0" stroke="#ccd3db" stroke-width="1" stroke-dasharray="2 2"/><line x1="321.0" x2="1850.0" y1="591.0" y2="591.0" stroke="#ccd3db" stroke-width="1" stroke-dasharray="2 2"/><line x1="321.0" x2="1850.0" y1="640.0" y2="640.0" stroke="#ccd3db" stroke-width="1" stroke-dasharray="2 2"/><path d="M321.0,576.4 L351.6,574.4 L382.2,573.5 L412.7,575.2 L443.3,575.5 L473.9,575.5 L504.5,575.0 L535.1,573.5 L565.6,550.9 L596.2,576.4 L626.8,576.0 L657.4,575.5 L688.0,575.6 L718.5,576.4 L749.1,575.8 L779.7,576.4 L810.3,574.4 L840.9,575.8 L871.4,575.8 L902.0,575.6 L932.6,575.5 L963.2,576.4 L993.8,575.2 L1024.3,575.4 L1054.9,576.1 L1085.5,576.1 L1116.1,575.8 L1146.7,575.1 L1177.2,576.4 L1207.8,575.2 L1238.4,574.6 L1269.0,598.1 L1299.6,601.3 L1330.1,596.4 L1360.7,596.4 L1391.3,584.1 L1421.9,606.7 L1452.5,608.1 L1483.0,606.7 L1513.6,607.3 L1544.2,605.6 L1574.8,608.4 L1605.4,607.3 L1635.9,608.1 L1666.5,608.1 L1697.1,605.8 L1727.7,597.5 L1758.3,608.4 L1788.8,609.3 L1819.4,609.6 L1850.0,605.6 L1850.0,640.0 L321.0,640.0 Z" fill="#55bc8a" fill-opacity="0.1" stroke="none"/><path d="M321.0,576.4 L351.6,574.4 L382.2,573.5 L412.7,575.2 L443.3,575.5 L473.9,575.5 L504.5,575.0 L535.1,573.5 L565.6,550.9 L596.2,576.4 L626.8,576.0 L657.4,575.5 L688.0,575.6 L718.5,576.4 L749.1,575.8 L779.7,576.4 L810.3,574.4 L840.9,575.8 L871.4,575.8 L902.0,575.6 L932.6,575.5 L963.2,576.4 L993.8,575.2 L1024.3,575.4 L1054.9,576.1 L1085.5,576.1 L1116.1,575.8 L1146.7,575.1 L1177.2,576.4 L1207.8,575.2 L1238.4,574.6 L1269.0,598.1 L1299.6,601.3 L1330.1,596.4 L1360.7,596.4 L1391.3,584.1 L1421.9,606.7 L1452.5,608.1 L1483.0,606.7 L1513.6,607.3 L1544.2,605.6 L1574.8,608.4 L1605.4,607.3 L1635.9,608.1 L1666.5,608.1 L1697.1,605.8 L1727.7,597.5 L1758.3,608.4 L1788.8,609.3 L1819.4,609.6 L1850.0,605.6" fill="none" stroke="#55bc8a" stroke-width="1" stroke-opacity=".9"/></svg>
<div class="ax" style="left:311.0px;top:656px">08:58:58</div><div class="ax" style="left:420.4px;top:656px">09:06:58</div><div class="ax" style="left:542.7px;top:656px">09:14:58</div><div class="ax" style="left:665.1px;top:656px">09:22:58</div><div class="ax" style="left:787.4px;top:656px">09:30:58</div><div class="ax" style="left:909.7px;top:656px">09:38:58</div><div class="ax" style="left:1032.0px;top:656px">09:46:58</div><div class="ax" style="left:1154.3px;top:656px">09:54:58</div><div class="ax" style="left:1276.7px;top:656px">10:02:58</div><div class="ax" style="left:1399.0px;top:656px">10:10:58</div><div class="ax" style="left:1521.3px;top:656px">10:18:58</div><div class="ax" style="left:1643.6px;top:656px">10:26:58</div><div class="ax" style="left:1803.8px;top:656px">10:38:58</div>

</body>
</html>
